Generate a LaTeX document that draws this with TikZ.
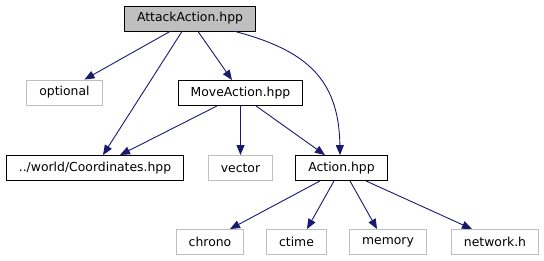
\documentclass[tikz,border=0pt]{standalone}
\usepackage{fontspec}
\setmainfont{DejaVu Sans}
\usepackage{xcolor}
\usetikzlibrary{arrows.meta, positioning}

\definecolor{edgeblue}{RGB}{25,25,112}
\definecolor{sysgray}{RGB}{191,191,191}

\begin{document}
\begin{tikzpicture}[
  x=1pt, y=-1pt,
  font=\fontsize{12.4pt}{14pt}\selectfont,
  every node/.style={draw, inner xsep=12.5pt, inner ysep=0pt, minimum height=25pt},
  hdr/.style={draw=black, line width=0.9pt},
  cur/.style={hdr, fill=sysgray},
  sys/.style={draw=sysgray, line width=0.9pt},
  arr/.style={-{Triangle[length=10pt, width=8pt]}, draw=edgeblue, line width=0.9pt},
]
\useasboundingbox (0,0) rectangle (544,261);

% Row 1 -- the header itself
\node[cur] (attack) at (190,18.5) {AttackAction.hpp};

% Row 2
\node[sys] (optional) at (64.5,92.5) {optional};
\node[hdr] (move) at (240.5,93) {MoveAction.hpp};

% Row 3
\node[hdr] (coords) at (95,168) {../world/Coordinates.hpp};
\node[sys] (vector) at (240.5,168) {vector};
\node[hdr] (action) at (341.5,168) {Action.hpp};

% Row 4 -- system headers of Action.hpp
\node[sys] (chrono) at (210,242) {chrono};
\node[sys] (ctime) at (296.5,242) {ctime};
\node[sys] (memory) at (388,242) {memory};
\node[sys] (network) at (495,242) {network.h};

% includes
\draw[arr] ([xshift=-20pt]attack.south) -- ([xshift=20pt]optional.north);
\draw[arr] ([xshift=-8pt]attack.south) -- ([xshift=8pt]coords.north);
\draw[arr] ([xshift=8pt]attack.south) -- ([xshift=-8.5pt]move.north);
\draw[arr] ([xshift=45pt]attack.south) .. controls (305,50) and (339,78) .. ([xshift=-1.5pt]action.north);

\draw[arr] ([xshift=-23.5pt]move.south) -- ([xshift=25pt]coords.north);
\draw[arr] (move.south) -- (vector.north);
\draw[arr] ([xshift=15.5pt]move.south) -- ([xshift=-16.5pt]action.north);

\draw[arr] ([xshift=-21.5pt]action.south) -- ([xshift=20pt]chrono.north);
\draw[arr] ([xshift=-7.5pt]action.south) -- ([xshift=10.5pt]ctime.north);
\draw[arr] ([xshift=8.5pt]action.south) -- ([xshift=-11pt]memory.north);
\draw[arr] ([xshift=24.5pt]action.south) -- ([xshift=-23pt]network.north);

\end{tikzpicture}
\end{document}
